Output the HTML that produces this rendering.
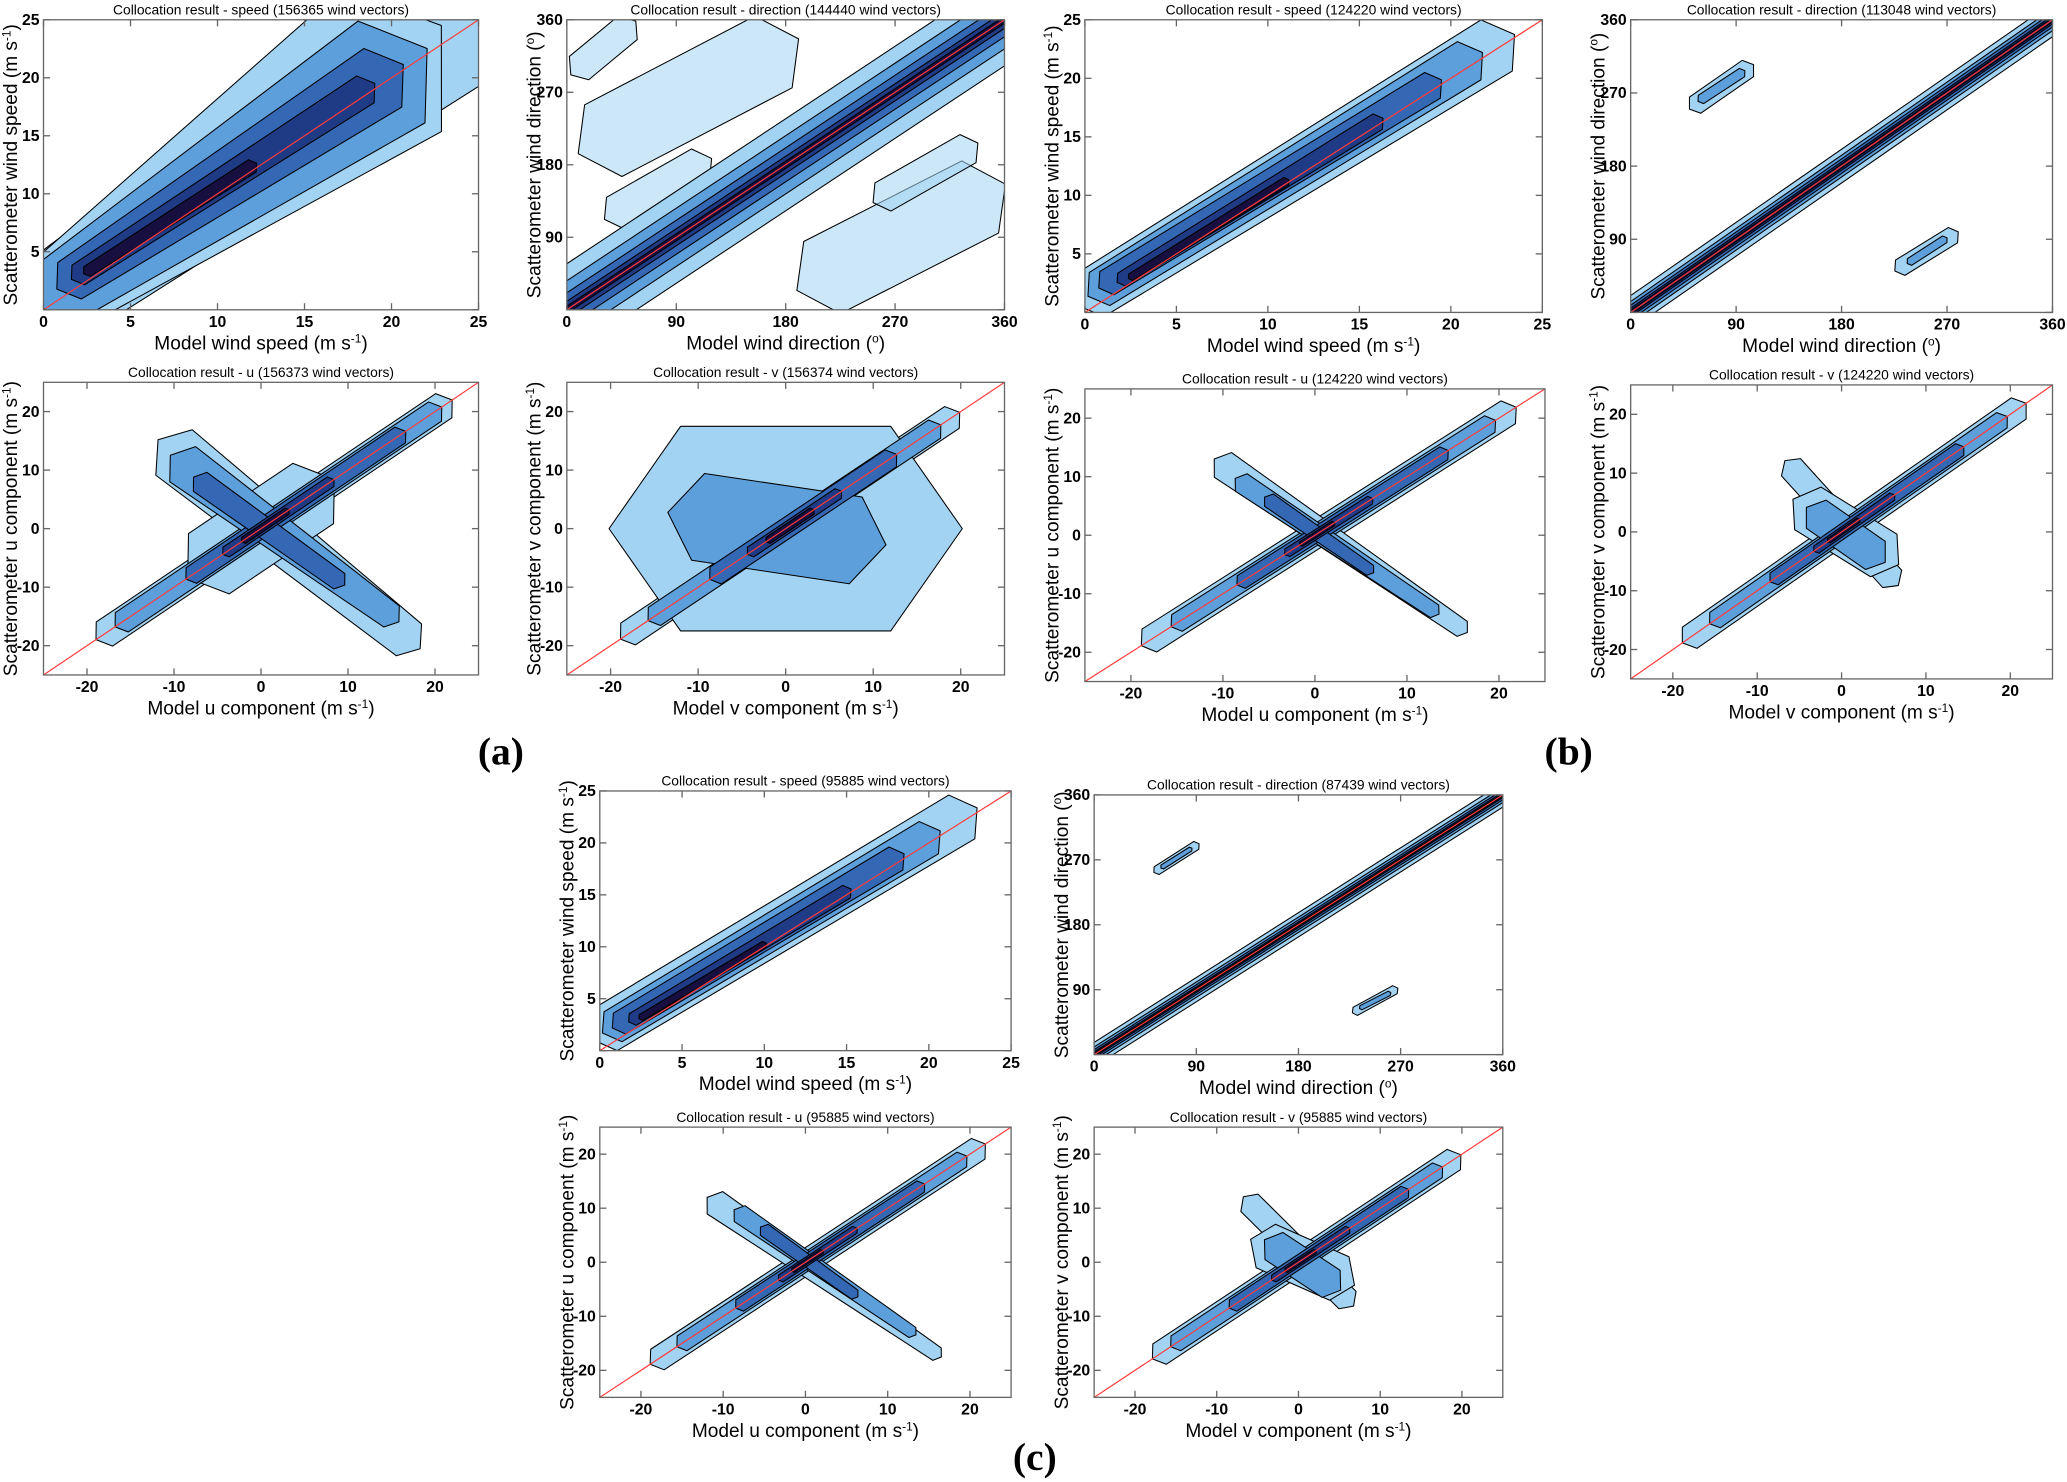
<!DOCTYPE html>
<html><head><meta charset="utf-8"><style>
html,body{margin:0;padding:0;background:#fff}
svg{display:block}
text{font-family:"Liberation Sans",sans-serif}
</style></head><body>
<svg id="fig" width="2067" height="1482" viewBox="0 0 1568 1124.2" preserveAspectRatio="none" xmlns="http://www.w3.org/2000/svg"></svg>
<script>
// ----- data (contour bands: [x0,y0,x1,y1,halfWidthStart,halfWidthEnd,level]) -----
const speedTicks = [0,5,10,15,20,25];
const dirTicks = [0,90,180,270,360];
const compTicks = [-20,-10,0,10,20];
const speedBandsA = [[0.3,0.5,23,24,3.2,4.5,0],[0.5,1,20,21.5,2.8,6,0],[0.8,1.5,20,20.5,2.4,4.2,1],[1.5,2.5,19.5,20,1.5,2.4,2],[2,3,18.5,19,0.8,1.1,3],[2.5,3.3,12,12.4,0.4,0.5,4]];
const speedBandsB = [[0.3,1.5,22.5,22.8,1.7,2.0,0],[0.8,2,21,21.5,1.3,1.5,1],[1.2,2.5,19,19.4,0.9,1.0,2],[2,2.8,16,16.3,0.5,0.6,3],[2.5,3,11,11.2,0.25,0.3,4]];
const speedBandsC = [[0.3,2,22,22.5,1.8,1.9,0],[0.8,2.3,20,20.5,1.3,1.4,1],[1.2,2.6,18,18.5,0.9,1.0,2],[2,3,15,15.3,0.5,0.55,3],[2.5,3.2,10,10.2,0.25,0.28,4]];
const dirBandsA = [[-20,-20,380,380,38,38,0],[-20,-20,380,380,24,24,1],[-20,-20,380,380,14,14,2],[-20,-20,380,380,7,7,3],[-20,-20,380,380,3,3,4]];
const dirBlobsA = [[30,210,170,320,40,40,0],[210,40,340,140,40,40,0],[40,120,110,180,18,18,0],[260,140,330,200,16,16,0],[10,300,50,350,15,15,0]];
const dirBandsB = [[-10,-10,370,370,14,14,0],[-10,-10,370,370,9,9,1],[-10,-10,370,370,6,6,2],[-10,-10,370,370,3.5,3.5,3],[-10,-10,370,370,1.8,1.8,4]];
const dirBlobsB = [[55,255,100,300,10,10,0],[230,55,275,95,9,9,0],[60,262,95,295,5,5,1],[238,62,268,90,4,4,1]];
const dirBandsC = [[-10,-10,370,370,11,11,0],[-10,-10,370,370,7,7,1],[-10,-10,370,370,4.5,4.5,2],[-10,-10,370,370,2.5,2.5,3],[-10,-10,370,370,1.2,1.2,4]];
const dirBlobsC = [[55,255,90,290,5,5,0],[230,60,265,90,5,5,0],[60,260,85,285,2.5,2.5,1],[235,65,260,85,2.5,2.5,1]];
const compBandsAu = [[-18,-18,21,21,2,2,0],[-10,13,17,-19,4,2.8,0],[-6,-6,6,6,5,5,0],[-16,-16,20,20,1.6,1.6,1],[-9,11,15,-15,3,1.8,1],[-8,-8,16,16,1.3,1.3,2],[-7,8,9,-9,1.6,1.3,2],[-4,-4,8,8,0.8,0.8,3],[-2,-2,3,3,0.5,0.5,4]];
const compBandsAv = [[-18,-18,19,19,1.8,1.8,0],[-12,0,12,0,14,14,0],[-15,-15,17,17,1.5,1.5,1],[-10,2,8,-2,6,6,1],[-8,-8,12,12,1.4,1.4,2],[-4,-4,6,6,0.8,0.8,3],[-2,-2,3,3,0.5,0.5,4]];
const compBandsBu = [[-18,-18,21,21,1.8,1.8,0],[-10,12,16,-16,2,1.2,0],[-15,-15,19,19,1.3,1.3,1],[-8,9,13,-13,1.4,1,1],[-8,-8,14,14,1,1,2],[-5,6,6,-6,1,0.8,2],[-3,-3,6,6,0.6,0.6,3],[-1.5,-1.5,2,2,0.35,0.35,4]];
const compBandsBv = [[-18,-18,21,21,1.8,1.8,0],[-6,11,6,-8,1.8,1.8,0],[-4,4,5,-4,3.5,3.5,0],[-15,-15,19,19,1.3,1.3,1],[-3,3,4,-4,2.4,2.4,1],[-8,-8,14,14,1,1,2],[-3,-3,6,6,0.6,0.6,3],[-1.5,-1.5,2,2,0.35,0.35,4]];
const compBandsCu = [[-18,-18,21,21,1.8,1.8,0],[-11,11,16,-17,2,1.1,0],[-15,-15,19,19,1.3,1.3,1],[-8,9,13,-13,1.4,0.9,1],[-8,-8,14,14,1,1,2],[-5,6,6,-6,1,0.8,2],[-3,-3,6,6,0.6,0.6,3],[-1.5,-1.5,2,2,0.35,0.35,4]];
const compBandsCv = [[-17,-17,19,19,1.8,1.8,0],[-6,11,6,-7,1.8,1.8,0],[-4,3,5,-3,3.5,3.5,0],[-15,-15,17,17,1.3,1.3,1],[-3,3,4,-4,2.4,2.4,1],[-8,-8,13,13,1,1,2],[-3,-3,6,6,0.6,0.6,3],[-1.5,-1.5,2,2,0.35,0.35,4]];
const levelColors = ['#a3d3f3','#5d9fdb','#3468b4','#1f3b86','#160f3f'];

const svg = document.getElementById('fig');
const NS = 'http://www.w3.org/2000/svg';
let clipId = 0;
function mk(tag, attrs, parent){ const e=document.createElementNS(NS,tag); for(const k in attrs) e.setAttribute(k,attrs[k]); (parent||svg).appendChild(e); return e; }

function panel(c){
  const g = mk('g',{});
  
  
  const sx = v => c.x + (v-c.min)/(c.max-c.min)*c.w;
  const sy = v => c.y + c.h - (v-c.min)/(c.max-c.min)*c.h;
  const ppx = c.w/(c.max-c.min), ppy = c.h/(c.max-c.min);
  const id = 'clip'+(clipId++);
  const cp = mk('clipPath',{id:id},g); mk('rect',{x:c.x,y:c.y,width:c.w,height:c.h},cp);
  const dg = mk('g',{'clip-path':'url(#'+id+')'},g);
  function poly(b){
    const ax=sx(b[0]), ay=sy(b[1]), bx=sx(b[2]), by=sy(b[3]);
    let dx=bx-ax, dy=by-ay; const L=Math.hypot(dx,dy)||1; dx/=L; dy/=L;
    const nx=-dy, ny=dx;
    const w0=b[4]*(ppx+ppy)/2, w1=b[5]*(ppx+ppy)/2;
    const p=[[ax-dx*w0*0.7,ay-dy*w0*0.7],[ax+nx*w0,ay+ny*w0],[bx+nx*w1,by+ny*w1],[bx+dx*w1*0.7,by+dy*w1*0.7],[bx-nx*w1,by-ny*w1],[ax-nx*w0,ay-ny*w0]];
    return p.map(q=>q[0].toFixed(1)+','+q[1].toFixed(1)).join(' ');
  }
  const blobs = c.blobs||[];
  for(let lv=0; lv<5; lv++){
    blobs.concat(c.bands).filter(b=>b[6]===lv).forEach(b=>{
      const isBlob = blobs.indexOf(b)>=0;
      const pg = mk('polygon',{points:poly(b),fill:levelColors[lv],stroke:'#000','stroke-width':0.8,'stroke-linejoin':'round'},dg);
      if(isBlob && c.blobOpacity) pg.setAttribute('fill-opacity', c.blobOpacity);
      
      
    });
  }
  const ref = mk('line',{x1:sx(c.min),y1:sy(c.min),x2:sx(c.max),y2:sy(c.max),stroke:'#ff3b3b','stroke-width':0.9},dg);
  
  
  const fr = mk('rect',{x:c.x,y:c.y,width:c.w,height:c.h,fill:'none',stroke:'#666','stroke-width':1},g);
  
  
  c.ticks.forEach((t,i)=>{
    mk('line',{x1:sx(t),y1:c.y+c.h,x2:sx(t),y2:c.y+c.h-5,stroke:'#666'},g);
    mk('line',{x1:sx(t),y1:c.y,x2:sx(t),y2:c.y+5,stroke:'#666'},g);
    mk('line',{x1:c.x,y1:sy(t),x2:c.x+5,y2:sy(t),stroke:'#666'},g);
    mk('line',{x1:c.x+c.w,y1:sy(t),x2:c.x+c.w-5,y2:sy(t),stroke:'#666'},g);
    const tx = mk('text',{x:sx(t),y:c.y+c.h+13,'font-size':12,'text-anchor':'middle','font-weight':'bold'},g);
    tx.textContent = t;
    
    
    if(!(c.skipY0 && i===0)){
      const ty = mk('text',{x:c.x-3,y:sy(t)+4,'font-size':12,'text-anchor':'end','font-weight':'bold'},g);
      ty.textContent = t;
      
      
    }
  });
  const ti = mk('text',{x:c.x+c.w/2,y:c.y-4,'font-size':10.5,'text-anchor':'middle'},g);
  ti.textContent = c.title;
  
  
  const xl = mk('text',{x:c.x+c.w/2,y:c.y+c.h+30,'font-size':14.5,'text-anchor':'middle'},g);
  xl.innerHTML = c.xlabel;
  
  
  const yx = c.x-20, yy = c.y+c.h/2;
  const yl = mk('text',{x:yx,y:yy,'font-size':14.5,'text-anchor':'middle',transform:'rotate(-90 '+yx+' '+yy+')'},g);
  yl.innerHTML = c.ylabel;
  
  
}
const U = ' (m s<tspan dy="-5" font-size="9">-1</tspan><tspan dy="5">)</tspan>';
const D = ' (<tspan dy="-5" font-size="9">o</tspan><tspan dy="5">)</tspan>';
function sp(n,x,y,w,h,t,b){panel({name:n,x,y,w,h,min:0,max:25,ticks:speedTicks,skipY0:true,title:t,bands:b,xlabel:'Model wind speed'+U,ylabel:'Scatterometer wind speed'+U});}
function dr(n,x,y,w,h,t,b,bl,op){panel({name:n,x,y,w,h,min:0,max:360,ticks:dirTicks,skipY0:true,title:t,bands:b,blobs:bl,blobOpacity:op,xlabel:'Model wind direction'+D,ylabel:'Scatterometer wind direction'+D});}
function cu(n,x,y,w,h,t,b,k){panel({name:n,x,y,w,h,min:-25,max:25,ticks:compTicks,title:t,bands:b,xlabel:'Model '+k+' component'+U,ylabel:'Scatterometer '+k+' component'+U});}

sp('panel-a-speed',33,15,330,220,'Collocation result - speed (156365 wind vectors)',speedBandsA);
dr('panel-a-direction',430,15,332,220,'Collocation result - direction (144440 wind vectors)',dirBandsA,dirBlobsA,0.55);
cu('panel-a-u',33,290,330,222,'Collocation result - u (156373 wind vectors)',compBandsAu,'u');
cu('panel-a-v',430,290,332,222,'Collocation result - v (156374 wind vectors)',compBandsAv,'v');
sp('panel-b-speed',823,15,347,222,'Collocation result - speed (124220 wind vectors)',speedBandsB);
dr('panel-b-direction',1237,15,320,222,'Collocation result - direction (113048 wind vectors)',dirBandsB,dirBlobsB);
cu('panel-b-u',823,295,349,222,'Collocation result - u (124220 wind vectors)',compBandsBu,'u');
cu('panel-b-v',1237,292,320,223,'Collocation result - v (124220 wind vectors)',compBandsBv,'v');
sp('panel-c-speed',455,600,312,197,'Collocation result - speed (95885 wind vectors)',speedBandsC);
dr('panel-c-direction',830,603,310,197,'Collocation result - direction (87439 wind vectors)',dirBandsC,dirBlobsC);
cu('panel-c-u',455,855,312,205,'Collocation result - u (95885 wind vectors)',compBandsCu,'u');
cu('panel-c-v',830,855,310,205,'Collocation result - v (95885 wind vectors)',compBandsCv,'v');

[['(a)',380,580,'label-a'],['(b)',1190,580,'label-b'],['(c)',785,1115,'label-c']].forEach(l=>{
  const t = mk('text',{x:l[1],y:l[2],'font-size':30,'font-weight':'bold','text-anchor':'middle'});
  t.setAttribute('style','font-family:"Liberation Serif",serif');
  t.textContent = l[0];
  
  
});
</script>
</body></html>
